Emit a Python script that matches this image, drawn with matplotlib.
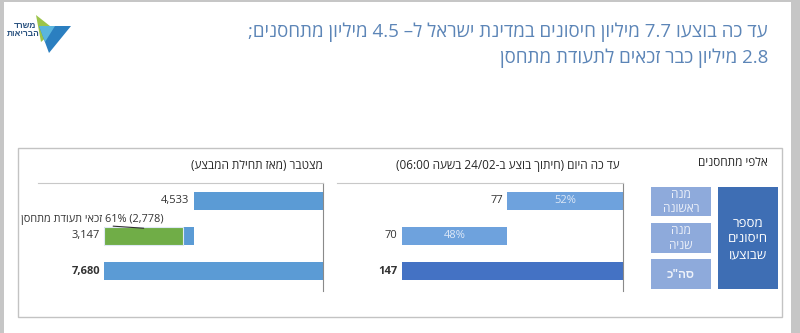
import re
import matplotlib
matplotlib.use("Agg")
import matplotlib.pyplot as plt
from matplotlib.patches import Rectangle, Polygon

plt.rcParams['font.family'] = ['Open Sans', 'Liberation Sans', 'DejaVu Sans']

# vaccinations, in thousands
dose_labels = ['מנה ראשונה', 'מנה שניה', 'סה"כ']
cum_values = [4533, 3147, 7680]      # since the start of the campaign
cum_eligible = 2778                  # eligible for a vaccination certificate
today_values = [77, 70, 147]         # today, cut at 06:00 on 24/02

title_lines = ['עד כה בוצעו 7.7 מיליון חיסונים במדינת ישראל ל– 4.5 מיליון מתחסנים;',
               '2.8 מיליון כבר זכאים לתעודת מתחסן']
cum_header = 'מצטבר (מאז תחילת המבצע)'
today_header = 'עד כה היום (חיתוך בוצע ב-24/02 בשעה 06:00)'
units_label = 'אלפי מתחסנים'
group_label = 'מספר\nחיסונים\nשבוצעו'
box_labels = ['מנה\nראשונה', 'מנה\nשניה', 'סה"כ']


def vis(s):
    # minimal right-to-left reordering: numbers stay as they are, the rest flips
    out = []
    for line in s.split('\n'):
        toks = re.findall(r'[0-9A-Za-z][0-9A-Za-z.,:/]*%?|.', line)
        mirror = {'(': ')', ')': '('}
        out.append(''.join(mirror.get(t, t) for t in reversed(toks)))
    return '\n'.join(out)


W, H = 800, 333
fig = plt.figure(figsize=(W / 100, H / 100), dpi=100)
fig.patch.set_facecolor('white')


def fx(x):
    return x / W


def fy(y):
    return 1 - y / H


def rect(x0, y0, x1, y1, **kw):
    r = Rectangle((fx(x0), fy(y1)), (x1 - x0) / W, (y1 - y0) / H,
                  transform=fig.transFigure, **kw)
    fig.patches.append(r)
    return r


# page edges and the panel frame
rect(0, 0, 4, H, color='#c6c6c6', lw=0)
rect(791, 0, W, H, color='#c6c6c6', lw=0)
rect(0, 0, W, 2, color='#c6c6c6', lw=0)
rect(18, 148, 782, 317, fill=False, edgecolor='#c3c3c3', lw=1)

# logo
def poly(pts, color):
    fig.patches.append(Polygon([(fx(x), fy(y)) for x, y in pts], closed=True,
                               transform=fig.transFigure, color=color, lw=0))

poly([(36, 15), (55, 30), (41, 42)], '#9cc44a')
poly([(39, 26), (71, 26), (49, 53)], '#2b7fc0')
poly([(39, 26), (55, 26), (45, 42)], '#5ab5dd')
fig.text(fx(25), fy(25), vis('משרד'), fontsize=6, fontweight='bold',
         color='#27507e', ha='center', va='center')
fig.text(fx(23), fy(33), vis('הבריאות'), fontsize=6, fontweight='bold',
         color='#27507e', ha='center', va='center')

# title
for line, y in zip(title_lines, [32, 58]):
    fig.text(fx(768), fy(y), vis(line), ha='right', va='center',
             fontsize=13.5, color='#5c85b7')

# panel headers
fig.text(fx(323), fy(165), vis(cum_header), ha='right', va='center',
         fontsize=8.5, color='#262626')
fig.text(fx(620), fy(165), vis(today_header), ha='right', va='center',
         fontsize=8.5, color='#262626')


def panel(box, values, xmax, colors):
    x0, y0, x1, y1 = box
    ax = fig.add_axes([fx(x0), fy(y1), (x1 - x0) / W, (y1 - y0) / H])
    pos = list(range(len(values)))
    starts = [0, values[0], 0]
    ax.barh(pos, values, left=starts, height=0.51, color=colors)
    ax.set_xlim(xmax, 0)
    ax.set_ylim(2.57, -0.51)
    for s in ['left', 'bottom']:
        ax.spines[s].set_visible(False)
    ax.spines['top'].set_color('#c8c8c8')
    ax.spines['right'].set_color('#8a8a8a')
    ax.set_xticks([])
    ax.set_yticks([])
    for i, (st, v) in enumerate(zip(starts, values)):
        ax.annotate(f'{v:,}', (st + v, i), xytext=(-3, 0),
                    textcoords='offset points', ha='right', va='center',
                    fontsize=8, color='#333333',
                    fontweight='bold' if i == 2 else 'normal')
    return ax, starts


# cumulative panel
ax1, st1 = panel((38, 183, 323, 291), cum_values, 10000,
                 ['#5b9bd5', '#5b9bd5', '#5b9bd5'])
total = cum_values[2]
ax1.barh(1, cum_eligible, left=total - cum_eligible, height=0.51,
         color='#70ad47', edgecolor='#dfe9f5', lw=0.8)
pct = round(100 * cum_eligible / cum_values[0])
green_pt = (total - cum_eligible / 2, 1 - 0.22)
ax1.annotate(vis(f'({cum_eligible:,}) {pct}% זכאי תעודת מתחסן'),
             green_pt, xytext=(14, 6), textcoords='offset points',
             ha='right', va='center', fontsize=7.8, color='#333333')
# leader line from the label down to the green segment
ax1.annotate('', green_pt, xytext=(-22, 1.5), textcoords='offset points',
             arrowprops=dict(arrowstyle='-', color='#303030', lw=0.8,
                             shrinkA=0, shrinkB=0))

# today panel
ax2, st2 = panel((337, 183, 623, 291), today_values, 190,
                 ['#6ea2dd', '#6ea2dd', '#4472c4'])
for i in range(2):
    share = round(100 * today_values[i] / today_values[2])
    ax2.text(st2[i] + today_values[i] / 2, i, f'{share}%', ha='center',
             va='center', fontsize=8, color='#dde8f7')

# legend boxes
fig.text(fx(768), fy(162), vis(units_label), ha='right', va='center',
         fontsize=8.5, color='#262626')
rect(718, 187, 778, 289, color='#3e6eb4', lw=0)
fig.text(fx(748), fy(239), vis(group_label), ha='center', va='center',
         fontsize=9.5, color='white', linespacing=1.25)
for (ya, yb), lab in zip([(187, 216), (223, 253), (259, 289)], box_labels):
    rect(651, ya, 711, yb, color='#8eaadb', lw=0)
    fig.text(fx(681), fy((ya + yb) / 2), vis(lab), ha='center', va='center',
             fontsize=8.5, color='#eef2fa', linespacing=1.15,
             fontweight='bold' if '\n' not in lab else 'normal')

fig.savefig('out.png', dpi=100)
